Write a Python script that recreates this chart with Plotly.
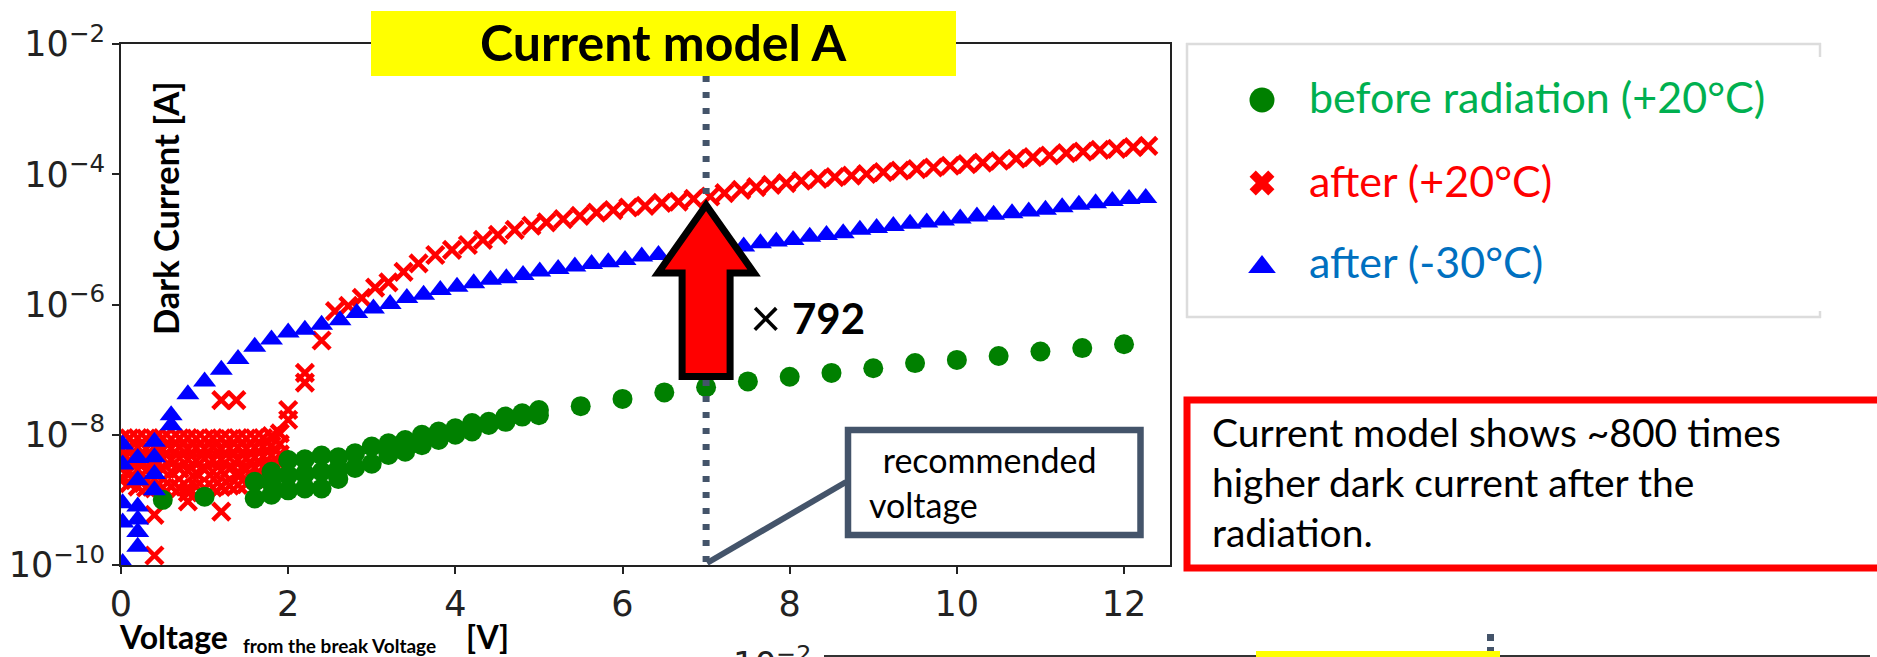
import plotly.graph_objects as go

# ---------------- data ----------------
# before radiation (+20C)
green_low_V = [0.5, 1.0]
green_low_I = [1.0e-9, 1.12e-9]
green_dense_V = [1.6, 1.8, 2.0, 2.2, 2.4, 2.6, 2.8, 3.0, 3.2, 3.4, 3.6, 3.8, 4.0, 4.2, 4.4, 4.6, 4.8, 5.0]
green_dense_hi = [1.9e-9, 2.7e-9, 4.1e-9, 4.2e-9, 4.8e-9, 4.5e-9, 5.2e-9, 6.6e-9, 7.4e-9, 8.3e-9,
                  1.0e-8, 1.12e-8, 1.26e-8, 1.51e-8, 1.58e-8, 1.9e-8, 2.14e-8, 2.4e-8]
green_dense_lo = [1.05e-9, 1.2e-9, 1.4e-9, 1.5e-9, 1.5e-9, 2.1e-9, 3.1e-9, 3.6e-9, 4.9e-9, 5.5e-9,
                  6.9e-9, 8.3e-9, 1.0e-8, 1.12e-8, 1.41e-8, 1.58e-8, 1.9e-8, 2.0e-8]
green_mid_V = [1.8, 2.0, 2.2, 2.4, 2.6]
green_mid_I = [1.8e-9, 2.4e-9, 2.5e-9, 2.7e-9, 3.0e-9]
green_sparse_V = [5.5, 6.0, 6.5, 7.0, 7.5, 8.0, 8.5, 9.0, 9.5, 10.0, 10.5, 11.0, 11.5, 12.0]
green_sparse_I = [2.75e-8, 3.55e-8, 4.47e-8, 5.37e-8, 6.6e-8, 7.76e-8, 8.9e-8, 1.05e-7, 1.26e-7,
                  1.41e-7, 1.62e-7, 1.9e-7, 2.14e-7, 2.45e-7]

# after (+20C)
red_block_V = [0.0, 0.1, 0.2, 0.3, 0.4, 0.5, 0.6, 0.7, 0.8, 0.9, 1.0, 1.1, 1.2, 1.3, 1.4, 1.5, 1.6, 1.7, 1.8, 1.9]
red_block_1 = [8.6e-9, 8.8e-9, 8.9e-9, 8.7e-9, 8.8e-9, 8.9e-9, 8.6e-9, 8.8e-9, 8.9e-9, 8.7e-9,
               8.6e-9, 8.9e-9, 8.8e-9, 8.6e-9, 8.9e-9, 8.7e-9, 8.8e-9, 8.9e-9, 9.5e-9, 1.05e-8]
red_block_2 = [6.3e-9, 6.0e-9, 6.4e-9, 6.1e-9, 6.5e-9, 5.9e-9, 6.2e-9, 6.4e-9, 6.0e-9, 6.3e-9,
               6.1e-9, 6.5e-9, 6.0e-9, 6.2e-9, 6.4e-9, 6.1e-9, 6.3e-9, 6.5e-9, 6.8e-9, 7.2e-9]
red_block_3 = [4.4e-9, 4.1e-9, 4.3e-9, 4.2e-9, 4.0e-9, 4.3e-9, 4.1e-9, 4.4e-9, 4.2e-9, 4.0e-9,
               4.3e-9, 4.1e-9, 4.2e-9, 4.4e-9, 4.1e-9, 4.3e-9, 4.5e-9, 4.6e-9, 4.8e-9, 5.0e-9]
red_block_4 = [3.0e-9, 2.7e-9, 2.9e-9, 2.8e-9, 2.6e-9, 2.9e-9, 2.7e-9, 3.0e-9, 2.8e-9, 2.6e-9,
               2.9e-9, 2.7e-9, 2.8e-9, 3.0e-9, 2.7e-9, 2.9e-9, 3.1e-9, 3.2e-9, 3.4e-9, 3.6e-9]
red_block_5 = [2.0e-9, 1.8e-9, 1.6e-9, 1.55e-9, 1.5e-9, 1.55e-9, 1.6e-9, 1.5e-9, 1.55e-9, 1.6e-9,
               1.5e-9, 1.55e-9, 1.6e-9, 1.65e-9, 1.7e-9, 1.75e-9, 2.1e-9, 2.2e-9, 2.3e-9, 2.4e-9]
red_out_V = [0.4, 0.4, 0.8, 0.8, 1.2, 1.2, 1.4, 1.2, 1.38, 2.0, 2.0, 2.2, 2.2, 2.4]
red_out_I = [1.4e-10, 5.9e-10, 9.5e-10, 1.3e-9, 6.6e-10, 1.6e-9, 2.5e-9, 3.4e-8, 3.4e-8,
             2.4e-8, 1.7e-8, 8.9e-8, 6.3e-8, 2.8e-7]
red_main_V = [2.56, 2.72, 2.88, 3.04, 3.20, 3.38, 3.56, 3.76, 3.96, 4.15, 4.33, 4.51, 4.71, 4.91,
              5.09, 5.29, 5.49, 5.69, 5.89, 6.07, 6.27, 6.47, 6.67, 6.85, 7.05, 7.22, 7.42, 7.60,
              7.78, 7.96, 8.14, 8.34, 8.54, 8.74, 8.92, 9.12, 9.32, 9.52, 9.72, 9.92, 10.12, 10.31,
              10.51, 10.71, 10.91, 11.11, 11.31, 11.51, 11.71, 11.91, 12.11, 12.29]
red_main_I = [7.9e-7, 9.5e-7, 1.26e-6, 1.82e-6, 2.19e-6, 3.16e-6, 4.27e-6, 5.75e-6, 6.9e-6, 8.2e-6,
              9.8e-6, 1.17e-5, 1.40e-5, 1.62e-5, 1.82e-5, 2.04e-5, 2.29e-5, 2.57e-5, 2.82e-5, 3.09e-5,
              3.27e-5, 3.63e-5, 3.80e-5, 4.19e-5, 4.55e-5, 5.13e-5, 5.75e-5, 6.34e-5, 6.87e-5, 7.29e-5,
              7.94e-5, 8.51e-5, 9.02e-5, 9.55e-5, 1.01e-4, 1.08e-4, 1.14e-4, 1.20e-4, 1.27e-4, 1.35e-4,
              1.43e-4, 1.51e-4, 1.61e-4, 1.73e-4, 1.83e-4, 1.94e-4, 2.11e-4, 2.23e-4, 2.37e-4, 2.45e-4,
              2.61e-4, 2.73e-4]

# after (-30C)
blue_low_V = [0.02, 0.02, 0.02, 0.02, 0.02, 0.2, 0.2, 0.2, 0.2, 0.2, 0.2, 0.4, 0.4, 0.4, 0.4, 0.6, 0.6]
blue_low_I = [7.1e-9, 3.5e-9, 8.9e-10, 4.5e-10, 1.07e-10, 4.4e-9, 2.0e-9, 7.9e-10, 5.0e-10, 3.2e-10,
              1.9e-10, 7.8e-9, 4.5e-9, 2.5e-9, 1.4e-9, 2.0e-8, 1.4e-8]
blue_main_V = [0.8, 1.0, 1.2, 1.4, 1.6, 1.8, 2.0, 2.2, 2.4, 2.62, 2.82, 3.02, 3.22, 3.42, 3.62, 3.82,
               4.02, 4.22, 4.42, 4.61, 4.81, 5.01, 5.23, 5.43, 5.63, 5.83, 6.03, 6.23, 6.43, 7.45,
               7.65, 7.84, 8.04, 8.24, 8.44, 8.64, 8.84, 9.04, 9.24, 9.44, 9.64, 9.84, 10.04, 10.24,
               10.44, 10.66, 10.86, 11.06, 11.26, 11.46, 11.66, 11.86, 12.06, 12.26]
blue_main_I = [4.2e-8, 6.6e-8, 1.0e-7, 1.45e-7, 2.24e-7, 2.9e-7, 3.7e-7, 4.1e-7, 4.9e-7, 5.75e-7,
               7.4e-7, 8.7e-7, 1.02e-6, 1.26e-6, 1.41e-6, 1.67e-6, 1.88e-6, 2.12e-6, 2.40e-6, 2.54e-6,
               2.85e-6, 3.20e-6, 3.52e-6, 3.82e-6, 4.17e-6, 4.47e-6, 4.84e-6, 5.44e-6, 5.78e-6, 7.76e-6,
               8.71e-6, 9.25e-6, 9.8e-6, 1.10e-5, 1.17e-5, 1.24e-5, 1.40e-5, 1.49e-5, 1.61e-5, 1.73e-5,
               1.81e-5, 1.95e-5, 2.09e-5, 2.24e-5, 2.38e-5, 2.52e-5, 2.67e-5, 2.84e-5, 3.12e-5, 3.39e-5,
               3.60e-5, 3.90e-5, 4.17e-5, 4.30e-5]

series_names = ["before radiation (+20°C)", "after (+20°C)", "after (-30°C)"]
x_ticks = [0, 2, 4, 6, 8, 10, 12]
y_tick_exp = [-10, -8, -6, -4, -2]
recommended_V = 7
factor_label = "792"

# ---------------- layout geometry ----------------
W, H = 1877, 657
PL, PR, PT, PB = 121, 1170, 44, 565          # plot area in pixels
XMAX = 12.55


def fx(p):
    return p / W


def fy(p):
    return 1 - p / H


def vx(v):  # data voltage -> pixel
    return PL + v * (PR - PL) / XMAX


GREEN, RED, BLUE = "#008000", "#FF0000", "#0000FF"
SLATE = "#44546A"
TXT = "Lato"
TICKF = "DejaVu Sans"

fig = go.Figure()

red_x = []
red_y = []
for row in (red_block_1, red_block_2, red_block_3, red_block_4, red_block_5):
    red_x += red_block_V
    red_y += row
red_x += red_out_V + red_main_V
red_y += red_out_I + red_main_I

fig.add_trace(go.Scatter(x=red_x, y=red_y, mode="markers", name=series_names[1],
                         marker=dict(symbol="x-thin", size=17, color=RED, opacity=1,
                                     line=dict(width=4.5, color=RED))))
fig.add_trace(go.Scatter(x=green_low_V + green_dense_V + green_dense_V + green_mid_V + green_sparse_V,
                         y=green_low_I + green_dense_hi + green_dense_lo + green_mid_I + green_sparse_I,
                         mode="markers", name=series_names[0],
                         marker=dict(symbol="circle", size=20, color=GREEN, opacity=1,
                                     line=dict(width=0))))
fig.add_trace(go.Scatter(x=blue_low_V + blue_main_V, y=blue_low_I + blue_main_I,
                         mode="markers", name=series_names[2],
                         marker=dict(symbol="triangle-up", size=20, color=BLUE, opacity=1,
                                     line=dict(width=0))))

# custom legend drawn on a pixel overlay axis
leg_y = [100, 183, 267]
fig.add_trace(go.Scatter(x=[1262, 1262, 1262], y=leg_y, xaxis="x2", yaxis="y2", mode="markers",
                         showlegend=False, hoverinfo="skip",
                         marker=dict(symbol=["circle", "x", "triangle-up"], size=[25, 22, 24],
                                     color=[GREEN, RED, BLUE], opacity=1, line=dict(width=0))))

ticktext = ["10<sup>\u2212%d</sup>" % (-e) for e in y_tick_exp]
axis_common = dict(showline=True, linecolor="#222", linewidth=2, mirror=True, ticks="outside",
                   ticklen=7, tickwidth=2, tickcolor="#222", showgrid=False, zeroline=False,
                   automargin=False, tickfont=dict(family=TICKF, size=35, color="#222"))

fig.update_layout(
    width=W, height=H, autosize=False, margin=dict(l=0, r=0, t=0, b=0),
    paper_bgcolor="white", plot_bgcolor="rgba(0,0,0,0)", showlegend=False, template="none",
    xaxis=dict(domain=[fx(PL), fx(PR)], range=[0, XMAX], tickvals=x_ticks, **axis_common),
    yaxis=dict(domain=[fy(PB), fy(PT)], type="log", range=[-10, -2],
               tickvals=[10.0 ** e for e in y_tick_exp], ticktext=ticktext, **axis_common),
    xaxis2=dict(domain=[0, 1], range=[0, W], visible=False, anchor="y2", fixedrange=True),
    yaxis2=dict(domain=[0, 1], range=[H, 0], visible=False, anchor="x2", fixedrange=True),
)

shapes = []
# recommended voltage dotted line
shapes.append(dict(type="line", xref="x", yref="paper", x0=recommended_V, x1=recommended_V,
                   y0=fy(76), y1=fy(PB), line=dict(color=SLATE, width=7, dash="6px,10px"),
                   layer="above"))
# callout connector + box
shapes.append(dict(type="line", xref="paper", yref="paper", x0=fx(846), y0=fy(482),
                   x1=fx(vx(recommended_V) + 1), y1=fy(563), line=dict(color=SLATE, width=6)))
shapes.append(dict(type="rect", xref="paper", yref="paper", x0=fx(848), x1=fx(1140.5),
                   y0=fy(430), y1=fy(535), line=dict(color=SLATE, width=6.5), fillcolor="white"))
# red arrow
cx = vx(recommended_V)
pts = [(cx, 205), (cx + 48, 273), (cx + 24, 273), (cx + 24, 376.5), (cx - 24, 376.5),
       (cx - 24, 273), (cx - 48, 273)]
path = "M " + " L ".join("%.5f,%.5f" % (fx(a), fy(b)) for a, b in pts) + " Z"
shapes.append(dict(type="path", xref="paper", yref="paper", path=path, fillcolor=RED,
                   line=dict(color="black", width=7)))
# title box
shapes.append(dict(type="rect", xref="paper", yref="paper", x0=fx(371), x1=fx(956),
                   y0=fy(11), y1=fy(76), fillcolor="#FFFF00", line=dict(width=0)))
# legend frame (right side cut off)
LG = "#DCDCDC"
for (a, b, c, d) in [(1186, 44, 1821, 44), (1187, 43, 1187, 318), (1186, 317, 1821, 317),
                     (1820, 43, 1820, 57), (1820, 311, 1820, 318)]:
    shapes.append(dict(type="line", xref="paper", yref="paper", x0=fx(a), y0=fy(b), x1=fx(c),
                       y1=fy(d), line=dict(color=LG, width=2.5)))
# red comment box
shapes.append(dict(type="rect", xref="paper", yref="paper", x0=fx(1187), x1=fx(1895),
                   y0=fy(400), y1=fy(568), line=dict(color=RED, width=7)))
# next chart peeking at the bottom
shapes.append(dict(type="line", xref="paper", yref="paper", x0=fx(824), x1=fx(1870),
                   y0=fy(656), y1=fy(656), line=dict(color="#333", width=2)))
shapes.append(dict(type="rect", xref="paper", yref="paper", x0=fx(1256), x1=fx(1500),
                   y0=fy(651), y1=fy(665), fillcolor="#FFFF00", line=dict(width=0)))
shapes.append(dict(type="rect", xref="paper", yref="paper", x0=fx(1487), x1=fx(1494),
                   y0=fy(634), y1=fy(641), fillcolor=SLATE, line=dict(width=0)))
shapes.append(dict(type="rect", xref="paper", yref="paper", x0=fx(1487), x1=fx(1494),
                   y0=fy(647), y1=fy(651), fillcolor=SLATE, line=dict(width=0)))
fig.update_layout(shapes=shapes)


def ann(text, x, y, size, color="black", bold=False, xanchor="left", family=TXT, angle=0):
    if bold:
        text = "<b>" + text + "</b>"
    fig.add_annotation(text=text, x=fx(x), y=fy(y), xref="paper", yref="paper",
                       xanchor=xanchor, yanchor="middle", showarrow=False, textangle=angle,
                       font=dict(family=family, size=size, color=color))


ann("Current model A", 663, 42, 50, bold=True, xanchor="center")
ann("Dark Current [A]", 165, 208, 34.5, bold=True, xanchor="center", angle=-90)
ann("Voltage", 117, 636, 32, bold=True)
ann("from the break Voltage", 241, 645, 19, bold=True)
ann("[V]", 464, 636, 32, bold=True)
ann("\u00d7", 765, 316, 54, xanchor="center")
ann(factor_label, 790, 318, 42, bold=True)
ann(" recommended", 872, 459, 34)
ann("voltage", 867, 504, 34)
ann("Current model shows ~800 times", 1210, 432, 39)
ann("higher dark current after the", 1210, 482, 39)
ann("radiation.", 1210, 532, 39)
ann(series_names[0], 1307, 96, 43, color="#00B050")
ann(series_names[1], 1307, 180, 43, color="#FF0000")
ann(series_names[2], 1307, 261, 43, color="#0070C0")
ann("10<sup>\u22122</sup>", 813, 662, 34, color="#222", xanchor="right", family=TICKF)

fig.write_html("out.html", config={"displayModeBar": False},
               post_script="document.body.style.margin='0';document.body.style.overflow='hidden';")
